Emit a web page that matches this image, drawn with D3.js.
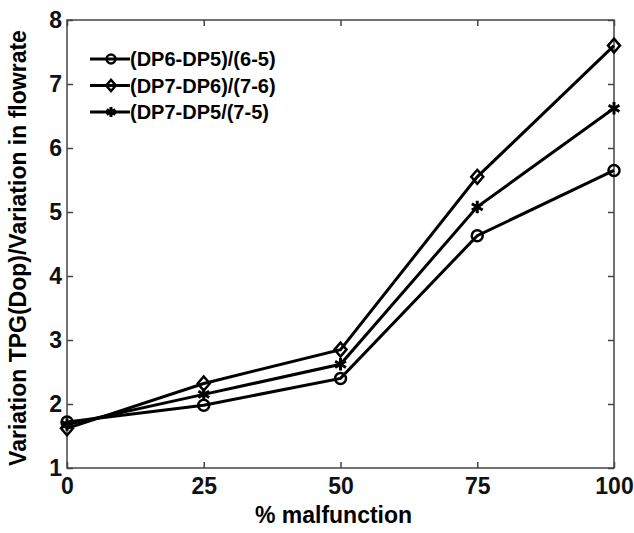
<!DOCTYPE html>
<html>
<head>
<meta charset="utf-8">
<script src="https://cdn.jsdelivr.net/npm/d3@7"></script>
<style>
  body { margin: 0; background: #fff; }
  text { font-family: "Liberation Sans", Arial, sans-serif; font-weight: bold; }
</style>
</head>
<body>
<script>
// % malfunction on the x axis
const malfunction = [0, 25, 50, 75, 100];
const seriesNames = ["(DP6-DP5)/(6-5)", "(DP7-DP6)/(7-6)", "(DP7-DP5/(7-5)"];
const dp65 = [1.72, 1.98, 2.40, 4.63, 5.65];
const dp76 = [1.62, 2.32, 2.85, 5.55, 7.60];
const dp75 = [1.68, 2.15, 2.62, 5.08, 6.62];
const markerKinds = ["circle", "diamond", "star"];
const xTicks = [0, 25, 50, 75, 100];
const yTicks = [1, 2, 3, 4, 5, 6, 7, 8];

const width = 634, height = 533;
const margin = {left: 67, right: 20, top: 20, bottom: 65};

const svg = d3.select("body").append("svg")
    .attr("width", width)
    .attr("height", height);

const x = d3.scaleLinear().domain([0, 100]).range([margin.left, width - margin.right]);
const y = d3.scaleLinear().domain([1, 8]).range([height - margin.bottom, margin.top]);

const axisColor = "#444";

// box
svg.append("rect")
    .attr("x", x(0)).attr("y", y(8))
    .attr("width", x(100) - x(0)).attr("height", y(1) - y(8))
    .attr("fill", "none").attr("stroke", axisColor).attr("stroke-width", 1.5);

// ticks pointing inwards, matlab style
svg.append("g")
    .attr("transform", `translate(0,${y(1)})`)
    .call(d3.axisBottom(x).tickValues(xTicks).tickSize(-6).tickPadding(10));
svg.append("g")
    .attr("transform", `translate(${x(0)},0)`)
    .call(d3.axisLeft(y).tickValues(yTicks).tickFormat(d3.format("d")).tickSize(-6).tickPadding(5));
svg.append("g")
    .attr("transform", `translate(${x(100)},0)`)
    .call(d3.axisRight(y).tickValues(yTicks).tickSize(-6).tickFormat(""));
svg.append("g")
    .attr("transform", `translate(0,${y(8)})`)
    .call(d3.axisTop(x).tickValues(xTicks).tickSize(-6).tickFormat(""));

svg.selectAll(".domain").remove();
svg.selectAll(".tick line").attr("stroke", axisColor).attr("stroke-width", 1.5);
svg.selectAll(".tick text").attr("fill", "#111").style("font-size", "23px");

svg.append("text")
    .attr("x", (x(0) + x(100)) / 2 - 7).attr("y", 523)
    .attr("text-anchor", "middle")
    .style("font-size", "23px")
    .text("% malfunction");

svg.append("text")
    .attr("transform", `translate(26,248) rotate(-90)`)
    .attr("text-anchor", "middle")
    .style("font-size", "23px")
    .text("Variation TPG(Dop)/Variation in flowrate");

const allSeries = [dp65, dp76, dp75];
const line = d3.line().x((d, i) => x(malfunction[i])).y(d => y(d));

function drawMarker(g, kind, cx, cy, sc) {
  if (kind === "circle") {
    g.append("circle").attr("cx", cx).attr("cy", cy).attr("r", 5.5 * sc)
      .attr("fill", "none").attr("stroke", "#000").attr("stroke-width", 2.5);
  } else if (kind === "diamond") {
    const h = 7 * sc, w = 6 * sc;
    g.append("path")
      .attr("d", `M${cx},${cy - h}L${cx + w},${cy}L${cx},${cy + h}L${cx - w},${cy}Z`)
      .attr("fill", "none").attr("stroke", "#000").attr("stroke-width", 2.5);
  } else {
    g.append("path")
      .attr("d", d3.symbol(d3.symbolAsterisk, 110 * sc * sc)())
      .attr("transform", `translate(${cx},${cy})`)
      .attr("fill", "none").attr("stroke", "#000").attr("stroke-width", 3);
  }
}

allSeries.forEach((vals, s) => {
  const g = svg.append("g");
  g.append("path").datum(vals)
    .attr("d", line)
    .attr("fill", "none").attr("stroke", "#000").attr("stroke-width", 3);
  vals.forEach((v, i) => drawMarker(g, markerKinds[s], x(malfunction[i]), y(v), 1));
});

// legend (no box)
const legend = svg.append("g");
seriesNames.forEach((name, i) => {
  const ly = 59 + i * 26.5;
  legend.append("line")
    .attr("x1", 90).attr("x2", 130).attr("y1", ly).attr("y2", ly)
    .attr("stroke", "#000").attr("stroke-width", 3);
  drawMarker(legend, markerKinds[i], 111, ly, 0.8);
  legend.append("text")
    .attr("x", 130).attr("y", ly + 7)
    .style("font-size", "20px")
    .text(name);
});
</script>
</body>
</html>
